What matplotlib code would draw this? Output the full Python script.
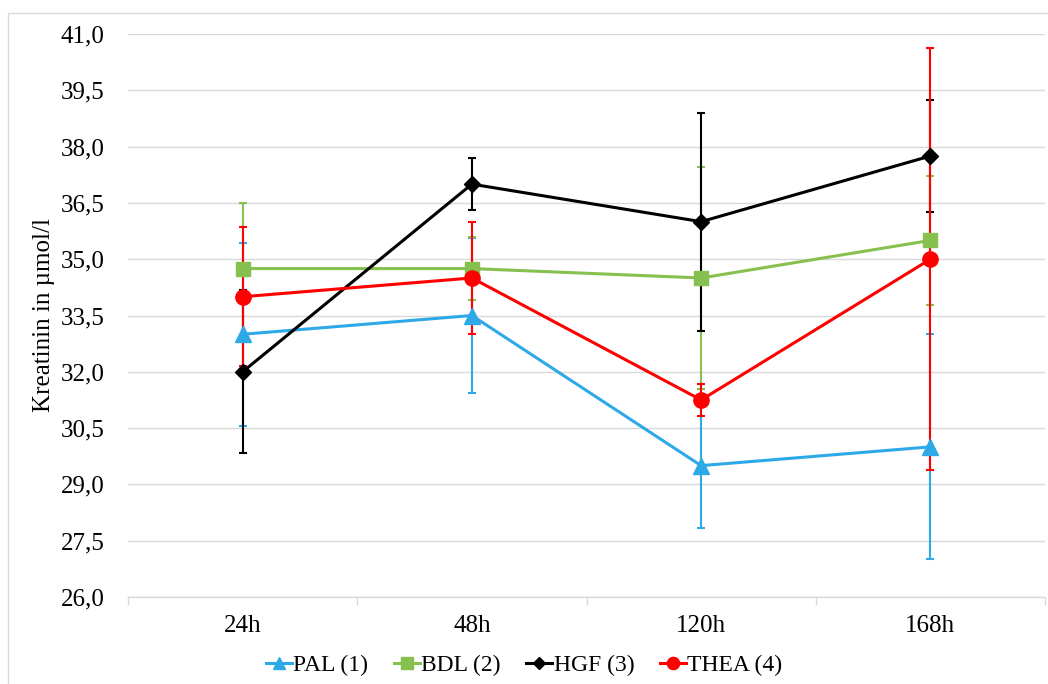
import matplotlib
matplotlib.use("Agg")
import matplotlib.pyplot as plt
from matplotlib.ticker import FuncFormatter, FixedLocator
from matplotlib.patches import Rectangle
import numpy as np

plt.rcParams['font.family'] = ['Liberation Serif', 'DejaVu Serif']

categories = ["24h", "48h", "120h", "168h"]
series_names = ["PAL (1)", "BDL (2)", "HGF (3)", "THEA (4)"]

pal_mean = [33.0, 33.5, 29.5, 30.0]
pal_err = [2.44, 2.07, 1.65, 3.0]
bdl_mean = [34.75, 34.75, 34.5, 35.5]
bdl_err = [1.76, 0.83, 2.95, 1.72]
hgf_mean = [32.0, 37.0, 36.0, 37.75]
hgf_err = [2.17, 0.7, 2.9, 1.48]
thea_mean = [34.0, 34.5, 31.25, 35.0]
thea_err = [1.85, 1.5, 0.43, 5.62]

y_min, y_max, y_step = 26.0, 41.0, 1.5

means = [pal_mean, bdl_mean, hgf_mean, thea_mean]
errs = [pal_err, bdl_err, hgf_err, thea_err]
colors = ["#2EA9E8", "#86C150", "#000000", "#FF0000"]
markers = ["^", "s", "D", "o"]
msizes = [11, 10, 8, 11]

FS = 18

fig = plt.figure(figsize=(10.48, 6.84), dpi=100)
ax = fig.add_axes([128/1048, 87/684, (1045-128)/1048, (597-34)/684])

x = np.arange(len(categories))

for m, e, c in zip(means, errs, colors):
    ax.errorbar(x, m, yerr=e, fmt='none', ecolor=c, elinewidth=1.5,
                capsize=3, capthick=1.5, zorder=2)
handles = []
for m, c, mk, ms, name in zip(means, colors, markers, msizes, series_names):
    ax.plot(x, m, color=c, lw=2.2, zorder=3, solid_capstyle='round')
    ax.plot(x, m, linestyle='none', marker=mk, markersize=ms, color=c,
            markeredgecolor=c, zorder=4)
    h, = ax.plot([], [], color=c, lw=2.2, marker=mk, markersize=ms*0.8,
                 markeredgecolor=c, label=name)
    handles.append(h)

ax.set_xlim(-0.5, len(categories) - 0.5)
ax.set_ylim(y_min, y_max)
ax.yaxis.set_major_locator(FixedLocator(np.arange(y_min, y_max + 0.01, y_step)))
ax.yaxis.set_major_formatter(FuncFormatter(lambda v, p: f"{v:.1f}".replace('.', ',')))
ax.set_xticks(x)
ax.set_xticklabels(categories)
ax.xaxis.set_minor_locator(FixedLocator(np.arange(-0.5, len(categories), 1.0)))
ax.tick_params(axis='x', which='major', length=0, pad=13, labelsize=FS)
ax.tick_params(axis='x', which='minor', length=6, color='#d9d9d9', width=1)
ax.tick_params(axis='y', which='major', length=0, pad=17, labelsize=FS)

ax.grid(axis='y', color='#d9d9d9', lw=1, zorder=0)
ax.set_axisbelow(True)
for s in ['top', 'right', 'left']:
    ax.spines[s].set_visible(False)
ax.spines['bottom'].set_color('#d9d9d9')
ax.spines['bottom'].set_linewidth(1)

ax.set_ylabel("Kreatinin in µmol/l", fontsize=FS, labelpad=4)

fig.legend(handles=handles, loc='center', bbox_to_anchor=(0.5, 1 - 665/684),
           ncol=4, frameon=False, fontsize=17, handlelength=1.1,
           handletextpad=0.05, columnspacing=1.1)

fig.patches.append(Rectangle((8/1048, -0.05), 1.1, 1 - 13/684 + 0.05,
                             transform=fig.transFigure, fill=False,
                             edgecolor='#d9d9d9', lw=1))

fig.savefig("out.png", dpi=100)
